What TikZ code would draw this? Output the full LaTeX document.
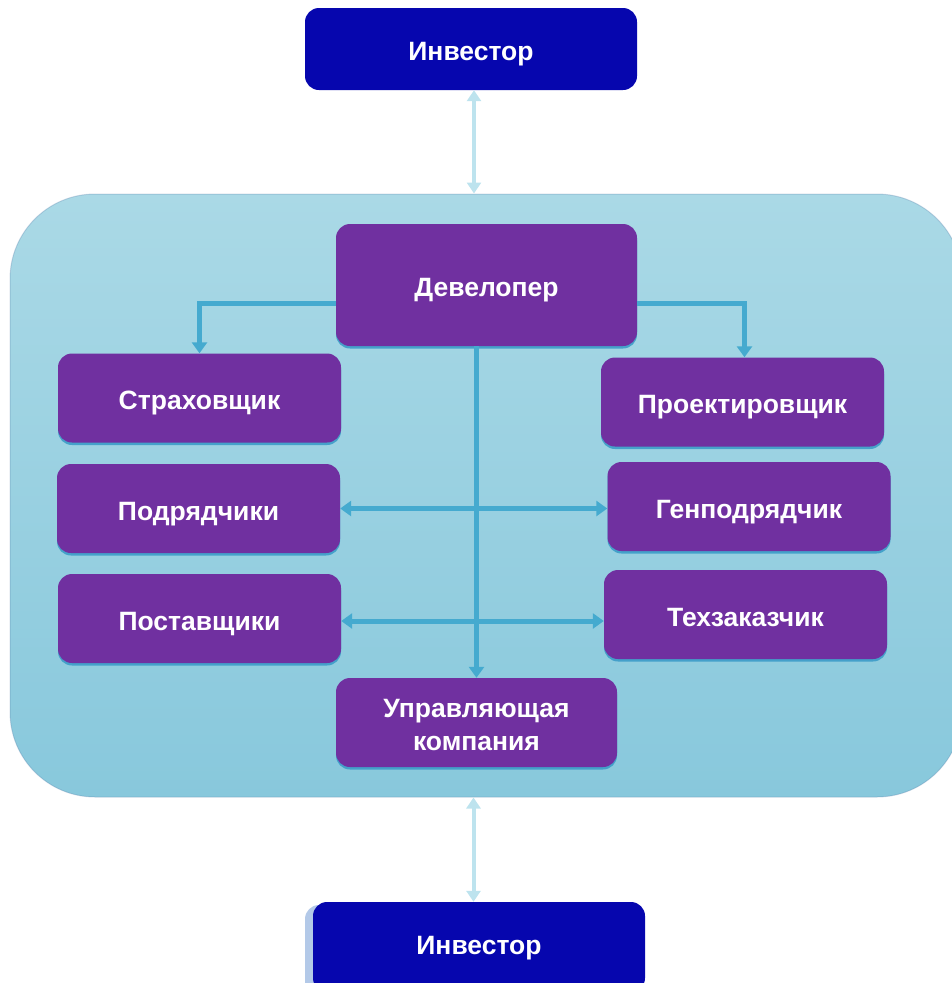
\documentclass[tikz,border=0pt]{standalone}
\usepackage{fontspec}
\setmainfont{Liberation Sans}
\usetikzlibrary{arrows.meta,shadows}
\definecolor{purp}{HTML}{7030A0}
\definecolor{navy}{HTML}{0606AE}
\definecolor{bgtop}{HTML}{AAD9E6}
\definecolor{bgbot}{HTML}{88C8DC}
\definecolor{arrcol}{HTML}{45AACF}
\definecolor{invarr}{HTML}{BDE3EE}
\definecolor{shadowcol}{HTML}{3C9CC8}
\tikzset{
  pbox/.style={fill=purp, rounded corners=14pt, text=white, font=\bfseries\fontsize{26.5}{33}\selectfont,
    align=center, minimum width=283pt, minimum height=89pt, inner sep=0pt, text height=23pt, text depth=0pt,
    drop shadow={shadow xshift=0pt, shadow yshift=-2.5pt, fill=shadowcol, opacity=0.9}},
  ibox/.style={fill=navy, rounded corners=14pt, text=white, font=\bfseries\fontsize{26.5}{30}\selectfont,
    minimum width=332pt, minimum height=82pt, inner sep=0pt, text height=23pt, text depth=0pt},
  conn/.style={draw=arrcol, line width=5pt, -{Triangle[width=15pt,length=11pt]}},
  conn2/.style={draw=arrcol, line width=5pt, {Triangle[width=15pt,length=11pt]}-{Triangle[width=15pt,length=11pt]}},
  invconn/.style={draw=invarr, line width=4pt, {Triangle[width=14pt,length=11pt]}-{Triangle[width=14pt,length=11pt]}}
}
\begin{document}
\begin{tikzpicture}[x=1pt,y=-1pt]
\useasboundingbox (0,0) rectangle (951,983);
% background panel
\node[rounded corners=85pt, top color=bgtop, bottom color=bgbot, minimum width=952pt, minimum height=603pt, inner sep=0pt,
  draw=bgbot!80!blue!70!black, draw opacity=0.25, line width=1pt] (bg) at (486,495.5) {};
% investors
\node[ibox] (inv1) at (471,49) {Инвестор};
\fill[fill=navy!25!bgtop!60!white, rounded corners=14pt] (305,905) rectangle (620,995);
\node[ibox, minimum height=90pt] (inv2) at (479,947) {\raisebox{4pt}{Инвестор}};
% main boxes
\node[pbox, minimum width=301pt, minimum height=122pt] (dev) at (486.5,285) {Девелопер};
\node[pbox] (strah) at (199.5,398) {Страховщик};
\node[pbox] (proekt) at (742.5,402) {Проектировщик};
\node[pbox] (podr) at (198.5,508.5) {Подрядчики};
\node[pbox] (genpodr) at (749,506.5) {Генподрядчик};
\node[pbox] (post) at (199.5,618.5) {Поставщики};
\node[pbox] (tekh) at (745.5,614.5) {Техзаказчик};
\node[pbox, minimum width=281pt, text height=56pt] (uk) at (476.5,722.5) {Управляющая\\компания};
% connectors
\draw[conn] ([yshift=-18pt]dev.west) -| (strah.north);
\draw[conn] ([yshift=-18pt]dev.east) -| ([xshift=2pt]proekt.north);
\draw[conn] (dev.south -| uk.north) -- (uk.north);
\draw[conn2] (podr.east) -- (podr.east -| genpodr.west);
\draw[conn2] ([yshift=-2.5pt]post.east) -- ([yshift=-2.5pt]post.east -| tekh.west);
\draw[invconn] ([xshift=3pt]inv1.south) -- ([xshift=3pt]inv1.south |- bg.north);
\draw[invconn] ([xshift=-3pt]uk.south |- bg.south) -- ([xshift=-3pt]uk.south |- inv2.north);
\end{tikzpicture}
\end{document}
